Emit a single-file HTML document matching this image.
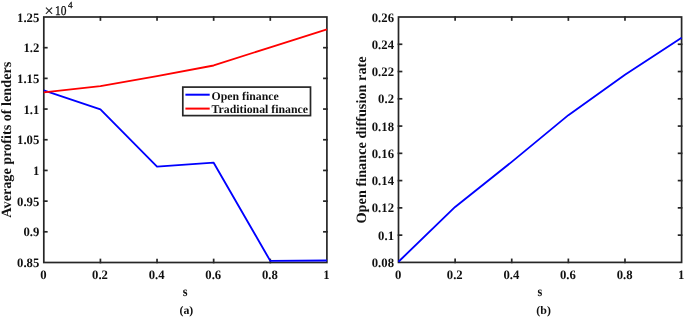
<!DOCTYPE html>
<html><head><meta charset="utf-8"><style>
html,body{margin:0;padding:0;background:#fff;}
body{width:685px;height:318px;overflow:hidden;}
svg{display:block;}
text{font-family:"Liberation Serif",serif;font-weight:bold;fill:#111;text-rendering:geometricPrecision;}
</style></head><body>
<svg width="685" height="318" viewBox="0 0 685 318">
<rect width="685" height="318" fill="#fff"/>
<g>
<g stroke="#262626" stroke-width="1.7" fill="none" stroke-linecap="square">
<line x1="100.42" y1="262.50" x2="100.42" y2="259.50"/>
<line x1="100.42" y1="17.00" x2="100.42" y2="20.00"/>
<line x1="157.04" y1="262.50" x2="157.04" y2="259.50"/>
<line x1="157.04" y1="17.00" x2="157.04" y2="20.00"/>
<line x1="213.66" y1="262.50" x2="213.66" y2="259.50"/>
<line x1="213.66" y1="17.00" x2="213.66" y2="20.00"/>
<line x1="270.28" y1="262.50" x2="270.28" y2="259.50"/>
<line x1="270.28" y1="17.00" x2="270.28" y2="20.00"/>
<line x1="43.80" y1="231.81" x2="46.80" y2="231.81"/>
<line x1="326.90" y1="231.81" x2="323.90" y2="231.81"/>
<line x1="43.80" y1="201.13" x2="46.80" y2="201.13"/>
<line x1="326.90" y1="201.13" x2="323.90" y2="201.13"/>
<line x1="43.80" y1="170.44" x2="46.80" y2="170.44"/>
<line x1="326.90" y1="170.44" x2="323.90" y2="170.44"/>
<line x1="43.80" y1="139.75" x2="46.80" y2="139.75"/>
<line x1="326.90" y1="139.75" x2="323.90" y2="139.75"/>
<line x1="43.80" y1="109.06" x2="46.80" y2="109.06"/>
<line x1="326.90" y1="109.06" x2="323.90" y2="109.06"/>
<line x1="43.80" y1="78.38" x2="46.80" y2="78.38"/>
<line x1="326.90" y1="78.38" x2="323.90" y2="78.38"/>
<line x1="43.80" y1="47.69" x2="46.80" y2="47.69"/>
<line x1="326.90" y1="47.69" x2="323.90" y2="47.69"/>
<rect x="43.80" y="17.00" width="283.10" height="245.50" fill="none"/>
<line x1="455.12" y1="262.40" x2="455.12" y2="259.40"/>
<line x1="455.12" y1="17.00" x2="455.12" y2="20.00"/>
<line x1="511.74" y1="262.40" x2="511.74" y2="259.40"/>
<line x1="511.74" y1="17.00" x2="511.74" y2="20.00"/>
<line x1="568.36" y1="262.40" x2="568.36" y2="259.40"/>
<line x1="568.36" y1="17.00" x2="568.36" y2="20.00"/>
<line x1="624.98" y1="262.40" x2="624.98" y2="259.40"/>
<line x1="624.98" y1="17.00" x2="624.98" y2="20.00"/>
<line x1="398.50" y1="235.13" x2="401.50" y2="235.13"/>
<line x1="681.60" y1="235.13" x2="678.60" y2="235.13"/>
<line x1="398.50" y1="207.87" x2="401.50" y2="207.87"/>
<line x1="681.60" y1="207.87" x2="678.60" y2="207.87"/>
<line x1="398.50" y1="180.60" x2="401.50" y2="180.60"/>
<line x1="681.60" y1="180.60" x2="678.60" y2="180.60"/>
<line x1="398.50" y1="153.33" x2="401.50" y2="153.33"/>
<line x1="681.60" y1="153.33" x2="678.60" y2="153.33"/>
<line x1="398.50" y1="126.07" x2="401.50" y2="126.07"/>
<line x1="681.60" y1="126.07" x2="678.60" y2="126.07"/>
<line x1="398.50" y1="98.80" x2="401.50" y2="98.80"/>
<line x1="681.60" y1="98.80" x2="678.60" y2="98.80"/>
<line x1="398.50" y1="71.53" x2="401.50" y2="71.53"/>
<line x1="681.60" y1="71.53" x2="678.60" y2="71.53"/>
<line x1="398.50" y1="44.27" x2="401.50" y2="44.27"/>
<line x1="681.60" y1="44.27" x2="678.60" y2="44.27"/>
<rect x="398.50" y="17.00" width="283.10" height="245.40" fill="none"/>
</g>
<polyline points="43.80,90.34 100.42,109.37 157.04,166.63 213.66,162.70 270.28,260.90 326.90,260.54" fill="none" stroke="#0000ff" stroke-width="1.85" stroke-linejoin="round"/>
<polyline points="43.80,92.37 100.42,86.17 157.04,76.04 213.66,65.49 270.28,47.26 326.90,29.28" fill="none" stroke="#ff0000" stroke-width="1.85" stroke-linejoin="round"/>
<polyline points="398.50,261.72 455.12,206.91 511.74,161.85 568.36,115.16 624.98,74.67 681.60,37.72" fill="none" stroke="#0000ff" stroke-width="1.85" stroke-linejoin="round"/>
<g font-size="12.9">
<text transform="translate(43.40,279.2) scale(0.985,1)" text-anchor="middle">0</text>
<text transform="translate(100.02,279.2) scale(0.985,1)" text-anchor="middle">0.2</text>
<text transform="translate(156.64,279.2) scale(0.985,1)" text-anchor="middle">0.4</text>
<text transform="translate(213.26,279.2) scale(0.985,1)" text-anchor="middle">0.6</text>
<text transform="translate(269.88,279.2) scale(0.985,1)" text-anchor="middle">0.8</text>
<text transform="translate(326.50,279.2) scale(0.985,1)" text-anchor="middle">1</text>
<text transform="translate(39.30,267.10) scale(0.985,1)" text-anchor="end">0.85</text>
<text transform="translate(39.30,236.41) scale(0.985,1)" text-anchor="end">0.9</text>
<text transform="translate(39.30,205.73) scale(0.985,1)" text-anchor="end">0.95</text>
<text transform="translate(39.30,175.04) scale(0.985,1)" text-anchor="end">1</text>
<text transform="translate(39.30,144.35) scale(0.985,1)" text-anchor="end">1.05</text>
<text transform="translate(39.30,113.66) scale(0.985,1)" text-anchor="end">1.1</text>
<text transform="translate(39.30,82.98) scale(0.985,1)" text-anchor="end">1.15</text>
<text transform="translate(39.30,52.29) scale(0.985,1)" text-anchor="end">1.2</text>
<text transform="translate(39.30,21.60) scale(0.985,1)" text-anchor="end">1.25</text>
<text transform="translate(398.10,279.2) scale(0.985,1)" text-anchor="middle">0</text>
<text transform="translate(454.72,279.2) scale(0.985,1)" text-anchor="middle">0.2</text>
<text transform="translate(511.34,279.2) scale(0.985,1)" text-anchor="middle">0.4</text>
<text transform="translate(567.96,279.2) scale(0.985,1)" text-anchor="middle">0.6</text>
<text transform="translate(624.58,279.2) scale(0.985,1)" text-anchor="middle">0.8</text>
<text transform="translate(681.20,279.2) scale(0.985,1)" text-anchor="middle">1</text>
<text transform="translate(394.00,267.00) scale(0.985,1)" text-anchor="end">0.08</text>
<text transform="translate(394.00,239.73) scale(0.985,1)" text-anchor="end">0.1</text>
<text transform="translate(394.00,212.47) scale(0.985,1)" text-anchor="end">0.12</text>
<text transform="translate(394.00,185.20) scale(0.985,1)" text-anchor="end">0.14</text>
<text transform="translate(394.00,157.93) scale(0.985,1)" text-anchor="end">0.16</text>
<text transform="translate(394.00,130.67) scale(0.985,1)" text-anchor="end">0.18</text>
<text transform="translate(394.00,103.40) scale(0.985,1)" text-anchor="end">0.2</text>
<text transform="translate(394.00,76.13) scale(0.985,1)" text-anchor="end">0.22</text>
<text transform="translate(394.00,48.87) scale(0.985,1)" text-anchor="end">0.24</text>
<text transform="translate(394.00,21.60) scale(0.985,1)" text-anchor="end">0.26</text>
</g>
<text x="49.1" y="15.9" style="font-weight:normal;stroke:#111;stroke-width:0.2" font-size="16" text-anchor="middle">&#215;</text>
<text transform="translate(55.1,14.6) scale(0.88,1.03)" style="font-weight:normal;stroke:#111;stroke-width:0.3" font-size="13">10</text>
<text x="68.1" y="8.0" style="font-weight:normal;stroke:#111;stroke-width:0.25" font-size="9.3">4</text>
<text x="11" y="139.7" font-size="14.2" text-anchor="middle" transform="rotate(-90 11 139.7)">Average profits of lenders</text>
<text x="365.6" y="139.9" font-size="14.3" text-anchor="middle" transform="rotate(-90 365.6 139.9)">Open finance diffusion rate</text>
<text transform="translate(185.2,295.7) scale(0.9,1)" font-size="13.6" text-anchor="middle">s</text>
<text transform="translate(540.0,295.7) scale(0.9,1)" font-size="13.6" text-anchor="middle">s</text>
<text transform="translate(186.4,314) scale(1.03,1)" font-size="11.5" text-anchor="middle">(a)</text>
<text transform="translate(543.6,314) scale(1.03,1)" font-size="11.5" text-anchor="middle">(b)</text>
<rect x="182.8" y="87.1" width="127.7" height="28.5" fill="#fff" stroke="#262626" stroke-width="1.7"/>
<line x1="185.4" y1="94.7" x2="209.7" y2="94.7" stroke="#0000ff" stroke-width="2"/>
<line x1="185.4" y1="108.6" x2="209.7" y2="108.6" stroke="#ff0000" stroke-width="2"/>
<text x="211.5" y="99.5" font-size="11.8">Open finance</text>
<text x="211.5" y="112.8" font-size="11.8">Traditional finance</text>
</g>
</svg>
</body></html>
